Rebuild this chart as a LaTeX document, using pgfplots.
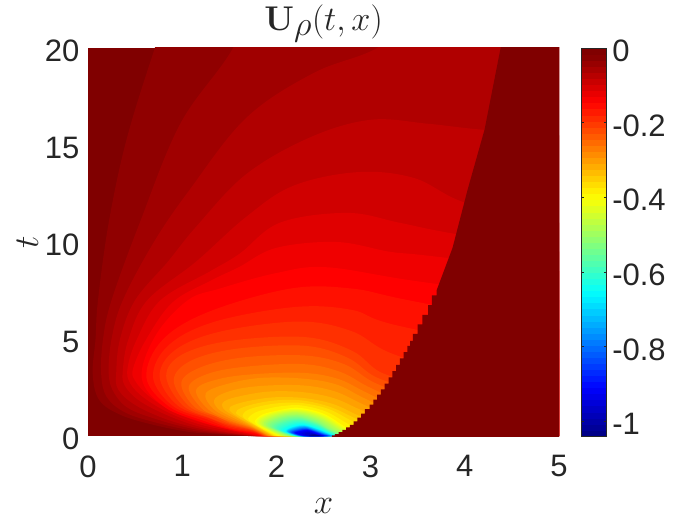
\documentclass[border=0pt]{standalone}
\usepackage{pgfplots}
\pgfplotsset{compat=1.18}
\usepackage[no-math]{fontspec}
\setmainfont{Liberation Sans}
\definecolor{txt}{gray}{0.15}
\definecolor{dkred}{rgb}{0.5,0,0}
\pgfplotsset{
  colormap={matjet}{rgb(0)=(0,0,.5) rgb(1)=(0,0,1) rgb(3)=(0,1,1) rgb(5)=(1,1,0) rgb(7)=(1,0,0) rgb(8)=(.5,0,0)},
  colormap={mj64}{of colormap={matjet,sample for=const,target pos={0,1,2,3,4,5,6,7,8,9,10,11,12,13,14,15,16,17,18,19,20,21,22,23,24,25,26,27,28,29,30,31,32,33,34,35,36,37,38,39,40,41,42,43,44,45,46,47,48,49,50,51,52,53,54,55,56,57,58,59,60,61,62,63,64}}},
}
% one filled contour band of the field: level -k*0.01625, colour R G B
\newcommand{\cnt}[4]{\addplot[fill={rgb,255:red,#1;green,#2;blue,#3},draw=none,smooth,tension=.6] coordinates {#4} \closedcycle;}
\begin{document}
\begin{tikzpicture}
\path[use as bounding box] (0,0) rectangle (700pt,525pt);
\begin{axis}[
  at={(88pt,89pt)},anchor=south west,scale only axis,width=471pt,height=388pt,
  xmin=0,xmax=5,ymin=0,ymax=20,
  xtick={0,1,2,3,4,5},ytick={0,5,10,15,20},
  axis background/.style={fill=dkred},
  axis line style={draw=none},tick style={draw=none},
  axis on top,
  /pgf/number format/assume math mode=true,
  tick label style={font=\fontsize{31}{33}\selectfont,text=txt},
  xticklabel style={yshift=-16pt},
  yticklabel style={xshift=-5pt,yshift=-3pt},
  title={\scalebox{1.38}{$\mathbf{U}_\rho(t,x)$}},
  title style={font=\fontsize{33}{36}\selectfont,text=txt,yshift=-4pt},
  xlabel={\scalebox{1.4}{$x$}},ylabel={\scalebox{1.4}{$t$}},
  label style={font=\fontsize{32}{34}\selectfont,text=txt},
  xlabel style={yshift=-14pt},
  colormap name=mj64,
  point meta min=-1.04,point meta max=0,
  colorbar sampled,
  colorbar style={
    samples=65,
    at={(parent axis.north east)},anchor=north west,xshift=13.7pt,
    width=25.5pt,height=388pt,scale only axis,
    ytick={-1,-0.8,-0.6,-0.4,-0.2,0},
    yticklabels={-1,-0.8,-0.6,-0.4,-0.2,0},
    ylabel={},
    yticklabel pos=right,
    tick align=inside,major tick length=2.5pt,
    tick style={draw=txt,line width=.5pt},
    axis line style={draw=txt,line width=.6pt},
    tick label style={font=\fontsize{31}{33}\selectfont,text=txt},
    yticklabel style={xshift=2pt,yshift=-3pt},
  },
]
\cnt{144}{0}{0}{(1.7,0)(1.3,.12)(1.06,.22)(.7,.57)(.35,1.08)(.12,1.85)(.05,3.2)(.08,5)(.106,7)(.22,11)(.41,15.3)(.71,20)(1,24)(6,24)}
\cnt{160}{0}{0}{(1.73,0)(1.35,.14)(1.08,.3)(.73,.68)(.4,1.2)(.2,2)(.14,3.2)(.16,5)(.25,7)(.55,11)(.98,16.1)(1.54,20)(1.9,24)(6,24)}
\cnt{176}{0}{0}{(1.75,0)(1.4,.16)(1.11,.37)(.77,.8)(.44,1.4)(.28,2.2)(.22,3.2)(.25,5)(.37,7)(.7,10)(1.08,12.7)(1.68,16.4)(2.39,18.7)(3.07,20)(3.6,22)(6,22)}
\cnt{192}{0}{0}{(1.77,0)(1.45,.18)(1.14,.43)(.81,.9)(.5,1.6)(.32,2.4)(.3,3.3)(.34,5)(.5,7)(.85,9)(1.15,10.8)(1.68,13.5)(2.36,15.4)(3,16.3)(3.6,16.1)(4.16,15.8)(5,15.5)}
\cnt{208}{0}{0}{(1.78,0)(1.48,.2)(1.17,.5)(.85,1.05)(.55,1.8)(.39,2.6)(.37,3.4)(.43,5)(.63,7)(1.15,9)(1.68,11.3)(2.18,12.9)(2.86,13.6)(3.46,13.3)(4.02,12)(5,11)}
\cnt{224}{0}{0}{(1.79,0)(1.55,.22)(1.2,.58)(.87,1.17)(.6,1.95)(.45,2.7)(.42,3.5)(.52,5)(.77,7)(1.3,8.5)(1.61,9.4)(2.04,11)(2.75,11.5)(3.3,11)(3.8,10.5)(5,9.5)}
\cnt{240}{0}{0}{(1.81,0)(1.6,.24)(1.22,.67)(.9,1.27)(.65,2.05)(.5,2.85)(.48,3.5)(.62,5)(.9,6.9)(1.3,8)(1.6,8.7)(2,9.7)(2.64,10)(3.2,9.5)(3.6,9.3)(5,8.5)}
\cnt{255}{0}{0}{(1.83,0)(1.72,.13)(1.5,.33)(1.19,.75)(.81,1.5)(.57,3)(.72,5.2)(1.06,7)(1.4,7.6)(2,8.4)(2.53,8.7)(3.46,8)(5,7)}
\cnt{255}{16}{0}{(1.84,0)(1.75,.16)(1.5,.37)(1.23,.78)(.86,1.52)(.62,3.02)(.79,4.95)(1.28,6.4)(2.15,7.6)(2.8,7.6)(3.4,7)(5,5.5)}
\cnt{255}{32}{0}{(1.85,0)(1.75,.2)(1.5,.42)(1.27,.85)(.9,1.55)(.69,3.05)(.86,4.7)(1.35,5.9)(2.2,6.65)(2.8,6.5)(3.28,5.7)(5,4)}
\cnt{255}{48}{0}{(1.86,0)(1.75,.24)(1.5,.5)(1.31,.87)(.95,1.58)(.76,3.08)(.93,4.45)(1.42,5.4)(2.25,5.9)(2.8,5.4)(3.2,4.3)(4,3)}
\cnt{255}{64}{0}{(1.87,0)(1.75,.28)(1.5,.57)(1.3,.92)(1,1.6)(.83,3.1)(1,4.2)(1.5,4.9)(2.3,5.1)(2.8,4.4)(3.1,3.3)(3.5,2.7)}
\cnt{255}{80}{0}{(1.88,0)(1.75,.3)(1.5,.63)(1.35,.95)(1.07,1.55)(.91,2.9)(1.1,3.9)(1.58,4.5)(2.3,4.65)(2.75,4.05)(3.05,3.05)(3.45,2.4)}
\cnt{255}{96}{0}{(1.89,0)(1.75,.33)(1.5,.69)(1.38,1)(1.13,1.5)(.99,2.75)(1.2,3.55)(1.65,4.05)(2.3,4.15)(2.72,3.7)(3.02,2.8)(3.4,2.05)}
\cnt{255}{112}{0}{(1.9,0)(1.75,.37)(1.5,.75)(1.35,1.05)(1.2,1.45)(1.07,2.55)(1.3,3.25)(1.73,3.6)(2.3,3.7)(2.68,3.3)(2.97,2.55)(3.35,1.7)}
\cnt{255}{128}{0}{(1.91,0)(1.75,.4)(1.5,.82)(1.27,1.4)(1.15,2.4)(1.4,2.95)(1.8,3.2)(2.3,3.25)(2.65,2.95)(2.93,2.3)(3.3,1.4)}
\cnt{255}{144}{0}{(1.92,0)(1.75,.43)(1.52,.88)(1.33,1.4)(1.25,2.2)(1.49,2.7)(1.85,3)(2.3,2.95)(2.64,2.65)(2.91,2)(3.25,1.2)}
\cnt{255}{160}{0}{(1.93,0)(1.75,.46)(1.55,.92)(1.38,1.4)(1.35,1.95)(1.57,2.4)(1.9,2.6)(2.3,2.6)(2.62,2.3)(2.89,1.7)(3.2,1)}
\cnt{255}{176}{0}{(1.95,0)(1.75,.5)(1.58,.95)(1.44,1.4)(1.45,1.8)(1.66,2.1)(1.95,2.3)(2.3,2.25)(2.61,1.95)(2.87,1.4)(3.15,.8)}
\cnt{255}{192}{0}{(1.96,0)(1.75,.55)(1.6,.95)(1.5,1.35)(1.55,1.6)(1.75,1.85)(2,2)(2.3,1.95)(2.6,1.65)(2.85,1.1)(3.1,.6)}
\cnt{255}{208}{0}{(1.97,0)(1.78,.52)(1.65,.9)(1.57,1.2)(1.63,1.45)(1.81,1.7)(2.03,1.85)(2.29,1.82)(2.57,1.5)(2.82,.95)(3.05,.45)}
\cnt{255}{224}{0}{(1.98,0)(1.8,.5)(1.69,.8)(1.64,1.05)(1.7,1.35)(1.87,1.58)(2.05,1.7)(2.27,1.7)(2.55,1.4)(2.79,.8)(3,.3)}
\cnt{255}{240}{0}{(2,0)(1.83,.42)(1.74,.7)(1.7,.9)(1.78,1.22)(1.94,1.44)(2.08,1.55)(2.26,1.58)(2.52,1.27)(2.75,.65)(2.95,.15)}
\cnt{255}{255}{0}{(2.02,0)(1.92,.25)(1.82,.5)(1.77,.75)(1.85,1.1)(2,1.3)(2.1,1.4)(2.25,1.45)(2.5,1.15)(2.72,.5)(2.9,0)}
\cnt{239}{255}{16}{(2.04,0)(1.79,.68)(1.92,1.16)(2.2,1.39)(2.49,1.1)(2.7,.49)(2.88,0)}
\cnt{223}{255}{32}{(2.05,0)(1.81,.65)(1.93,1.11)(2.21,1.34)(2.48,1.05)(2.68,.47)(2.85,0)}
\cnt{207}{255}{48}{(2.07,0)(1.83,.63)(1.95,1.07)(2.21,1.28)(2.47,1)(2.66,.46)(2.83,0)}
\cnt{191}{255}{64}{(2.08,0)(1.85,.6)(1.97,1.03)(2.21,1.23)(2.46,.95)(2.64,.44)(2.8,0)}
\cnt{175}{255}{80}{(2.1,0)(1.87,.58)(1.98,.98)(2.21,1.17)(2.45,.9)(2.62,.43)(2.78,0)}
\cnt{159}{255}{96}{(2.12,0)(1.89,.55)(2,.94)(2.22,1.11)(2.44,.85)(2.59,.41)(2.75,0)}
\cnt{143}{255}{112}{(2.13,0)(1.91,.53)(2.01,.89)(2.22,1.06)(2.43,.8)(2.57,.4)(2.73,0)}
\cnt{127}{255}{128}{(2.15,0)(1.93,.5)(2.03,.85)(2.22,1)(2.42,.75)(2.55,.38)(2.7,0)}
\cnt{111}{255}{144}{(2.16,0)(1.95,.47)(2.05,.8)(2.23,.95)(2.42,.7)(2.55,.35)(2.69,0)}
\cnt{95}{255}{160}{(2.17,0)(1.97,.44)(2.07,.76)(2.24,.89)(2.42,.66)(2.55,.32)(2.68,0)}
\cnt{79}{255}{176}{(2.18,0)(1.99,.41)(2.08,.71)(2.25,.84)(2.42,.61)(2.55,.29)(2.67,0)}
\cnt{63}{255}{192}{(2.19,0)(2.01,.38)(2.1,.67)(2.26,.79)(2.43,.57)(2.55,.26)(2.66,0)}
\cnt{47}{255}{208}{(2.2,0)(2.03,.34)(2.12,.62)(2.26,.73)(2.43,.52)(2.55,.23)(2.65,0)}
\cnt{31}{255}{224}{(2.2,0)(2.05,.31)(2.14,.57)(2.27,.68)(2.43,.47)(2.55,.2)(2.64,0)}
\cnt{15}{255}{240}{(2.21,0)(2.07,.28)(2.15,.53)(2.28,.62)(2.43,.43)(2.55,.17)(2.63,0)}
\cnt{0}{255}{255}{(2.22,0)(2.09,.25)(2.17,.48)(2.29,.57)(2.43,.38)(2.55,.14)(2.62,0)}
\cnt{0}{239}{255}{(2.22,0)(2.1,.24)(2.18,.47)(2.29,.55)(2.43,.37)(2.55,.13)(2.61,0)}
\cnt{0}{223}{255}{(2.23,0)(2.11,.24)(2.18,.45)(2.3,.53)(2.43,.35)(2.54,.13)(2.61,0)}
\cnt{0}{207}{255}{(2.23,0)(2.11,.23)(2.19,.44)(2.3,.51)(2.43,.34)(2.54,.12)(2.6,0)}
\cnt{0}{191}{255}{(2.24,0)(2.12,.23)(2.2,.42)(2.3,.5)(2.42,.32)(2.54,.11)(2.6,0)}
\cnt{0}{175}{255}{(2.24,0)(2.12,.22)(2.2,.41)(2.3,.48)(2.42,.31)(2.53,.1)(2.6,0)}
\cnt{0}{159}{255}{(2.25,0)(2.13,.21)(2.21,.39)(2.31,.46)(2.42,.29)(2.53,.09)(2.59,0)}
\cnt{0}{143}{255}{(2.25,0)(2.14,.21)(2.21,.38)(2.31,.44)(2.42,.28)(2.52,.09)(2.59,0)}
\cnt{0}{127}{255}{(2.26,0)(2.14,.2)(2.22,.36)(2.31,.42)(2.42,.26)(2.52,.08)(2.58,0)}
\cnt{0}{111}{255}{(2.26,0)(2.15,.19)(2.23,.35)(2.31,.4)(2.42,.25)(2.52,.08)(2.57,0)}
\cnt{0}{95}{255}{(2.27,0)(2.16,.19)(2.23,.33)(2.32,.39)(2.42,.24)(2.51,.07)(2.57,0)}
\cnt{0}{79}{255}{(2.27,0)(2.16,.18)(2.24,.32)(2.32,.37)(2.42,.22)(2.5,.07)(2.56,0)}
\cnt{0}{63}{255}{(2.28,0)(2.17,.18)(2.24,.31)(2.32,.36)(2.42,.21)(2.5,.07)(2.55,0)}
\cnt{0}{47}{255}{(2.28,0)(2.18,.17)(2.25,.29)(2.32,.34)(2.42,.2)(2.5,.06)(2.55,0)}
\cnt{0}{31}{255}{(2.29,0)(2.19,.16)(2.25,.28)(2.33,.33)(2.42,.19)(2.49,.06)(2.54,0)}
\cnt{0}{15}{255}{(2.29,0)(2.19,.16)(2.26,.26)(2.33,.31)(2.42,.17)(2.48,.05)(2.53,0)}
\cnt{0}{0}{255}{(2.3,0)(2.2,.15)(2.26,.25)(2.33,.3)(2.42,.16)(2.48,.05)(2.52,0)}
\cnt{0}{0}{239}{(2.31,0)(2.24,.14)(2.33,.26)(2.42,.12)(2.51,0)}
\cnt{0}{0}{223}{(2.32,0)(2.27,.13)(2.34,.22)(2.42,.1)(2.5,0)}
\cnt{0}{0}{207}{(2.33,0)(2.3,.12)(2.35,.18)(2.42,.08)(2.5,0)}
\cnt{0}{0}{191}{(2.34,0)(2.37,.12)(2.42,.06)(2.49,0)}
\cnt{0}{0}{175}{(2.35,0)(2.38,.1)(2.42,.05)(2.48,0)}
\cnt{0}{0}{159}{(2.35,0)(2.4,.08)(2.47,0)}
\cnt{0}{0}{143}{(2.36,0)(2.41,.06)(2.46,0)}
\addplot[fill=dkred,draw=none] coordinates {
(2.59,-1)(2.59,.03)(2.62,.03)(2.62,.1)(2.66,.1)(2.66,.2)(2.7,.2)(2.7,.31)(2.74,.31)(2.74,.44)(2.78,.44)(2.78,.58)(2.82,.58)(2.82,.75)(2.86,.75)(2.86,.95)(2.9,.95)(2.9,1.15)(2.94,1.15)(2.94,1.38)(2.99,1.38)(2.99,1.62)(3.03,1.62)(3.03,1.88)(3.07,1.88)(3.07,2.13)(3.11,2.13)(3.11,2.4)(3.15,2.4)(3.15,2.7)(3.19,2.7)(3.19,3.02)(3.23,3.02)(3.23,3.35)(3.27,3.35)(3.27,3.67)(3.31,3.67)(3.31,4)(3.35,4)(3.35,4.32)(3.39,4.32)(3.39,4.64)(3.42,4.64)(3.42,4.9)(3.45,4.9)(3.45,5.27)(3.5,5.27)(3.5,5.75)(3.55,5.75)(3.55,6.25)(3.61,6.25)(3.61,6.75)(3.65,6.75)(3.65,7.25)(3.7,7.25)(3.7,7.5)(3.87,9.7)(4.03,12.7)(4.21,15.8)(4.38,20)(4.38,21)(6,21)(6,-1)
};
\end{axis}
\end{tikzpicture}
\end{document}
